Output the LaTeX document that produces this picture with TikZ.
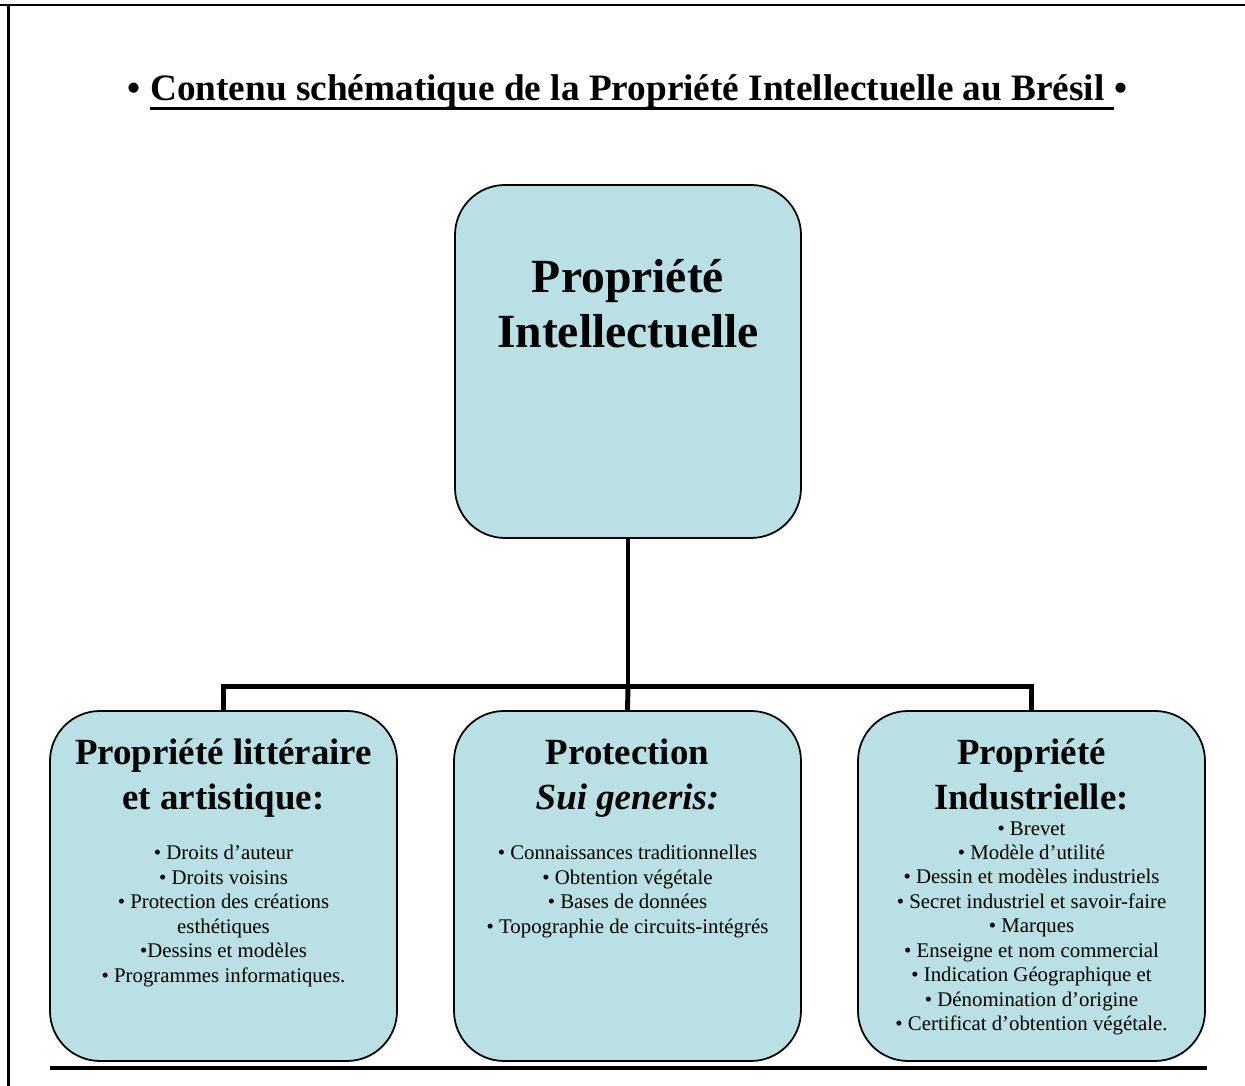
\documentclass[tikz,border=0pt]{standalone}
\usepackage{fontspec}
\setmainfont{Liberation Serif}
\usepackage{xcolor}
\usetikzlibrary{positioning}
\definecolor{bleuclair}{RGB}{185,224,228}
\newcommand{\souligne}[1]{\setbox0=\hbox{#1}\rlap{\rule[-5.1pt]{\wd0}{1.7pt}}\box0}
\tikzset{
  boite/.style={draw, line width=1pt, fill=bleuclair, rounded corners=1cm, inner sep=0pt},
  lien/.style={line width=2.8pt},
  titre/.style={inner sep=0pt, font=\bfseries\fontsize{21.2pt}{25pt}\selectfont},
  grandtete/.style={align=center, inner sep=0pt, font=\bfseries\fontsize{27.1pt}{31.5pt}\selectfont},
  tete/.style={align=center, inner sep=0pt, font=\bfseries\fontsize{21pt}{25.6pt}\selectfont},
  liste/.style={align=center, inner sep=0pt, font=\fontsize{11.85pt}{13.9pt}\selectfont}
}

\begin{document}
\begin{tikzpicture}
                \useasboundingbox (0, 0) rectangle (24.9, 21.72);
                \draw[line width=1.2pt] (0, 21.62) -- (24.9, 21.62);
                \draw[line width=1.5pt] (0.166, 21.62) -- (0.166, 0);
                \draw[line width=2.3pt] (1.0, 0.36) -- (24.14, 0.36);

                \node[titre, anchor=base] (titre) at (12.55, 19.7) {• \souligne{Contenu schématique de la Propriété Intellectuelle au Brésil }•};

                \node[boite, minimum width=6.92cm, minimum height=7.06cm] (pi) at (12.56, 14.49) {};
                \node[boite, minimum width=6.94cm, minimum height=7cm] (pla) at (4.47, 4) {};
                \node[boite, minimum width=6.94cm, minimum height=7cm] (psg) at (12.55, 4) {};
                \node[boite, minimum width=6.94cm, minimum height=7cm] (pind) at (20.63, 4) {};

                \coordinate[below=2.96cm of pi.south] (nd);
                \draw[lien] (pi.south) -- (nd);
                \draw[lien] (nd) -| (pla.north);
                \draw[lien] (nd) -| (pind.north);
                \draw[lien] (nd) -- (psg.north);

                \node[grandtete, below=1.5cm of pi.north] (pi-t) {Propriété\\Intellectuelle};

                \node[tete, below=0.56cm of pla.north] (pla-t) {Propriété littéraire\\et artistique:};
                \node[tete, below=0.56cm of psg.north] (psg-t) {Protection\\\textit{Sui generis:}};
                \node[tete, below=0.56cm of pind.north] (pind-t) {Propriété\\Industrielle:};

                \node[liste, below=2.7cm of pla.north] (pla-l) {• Droits d’auteur\\• Droits voisins\\• Protection des créations\\esthétiques\\•Dessins et modèles\\• Programmes informatiques.};
                \node[liste, below=2.7cm of psg.north] (psg-l) {• Connaissances traditionnelles\\• Obtention végétale\\• Bases de données\\• Topographie de circuits-intégrés};
                \node[liste, below=2.22cm of pind.north] (pind-l) {• Brevet\\• Modèle d’utilité\\• Dessin et modèles industriels\\• Secret industriel et savoir-faire\\• Marques\\• Enseigne et nom commercial\\• Indication Géographique et\\• Dénomination d’origine\\• Certificat d’obtention végétale.};
            \end{tikzpicture}
\end{document}
